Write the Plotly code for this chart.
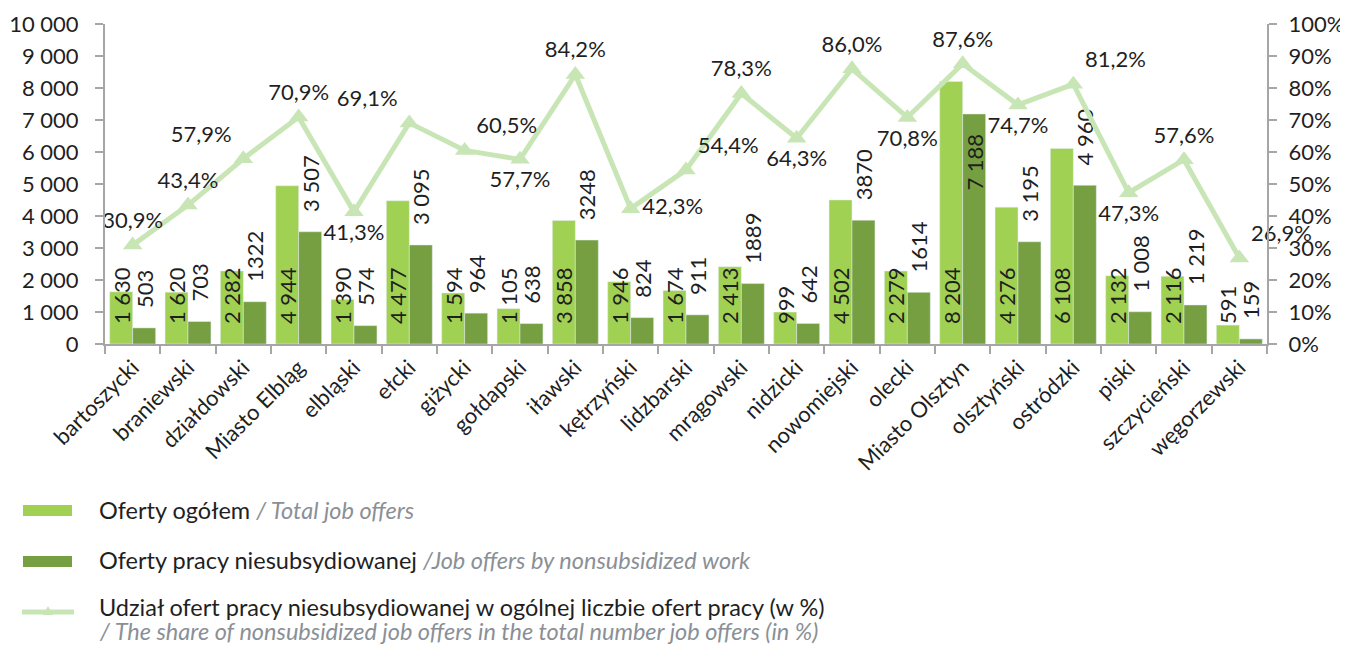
import plotly.graph_objects as go

# ---------------- data ----------------
categories = ["bartoszycki", "braniewski", "działdowski", "Miasto Elbląg", "elbląski", "ełcki",
              "giżycki", "gołdapski", "iławski", "kętrzyński", "lidzbarski", "mrągowski",
              "nidzicki", "nowomiejski", "olecki", "Miasto Olsztyn", "olsztyński", "ostródzki",
              "piski", "szczycieński", "węgorzewski"]
total_offers = [1630, 1620, 2282, 4944, 1390, 4477, 1594, 1105, 3858, 1946, 1674, 2413,
                999, 4502, 2279, 8204, 4276, 6108, 2132, 2116, 591]
nonsub_offers = [503, 703, 1322, 3507, 574, 3095, 964, 638, 3248, 824, 911, 1889,
                 642, 3870, 1614, 7188, 3195, 4960, 1008, 1219, 159]
nonsub_labels = ["503", "703", "1322", "3 507", "574", "3 095", "964", "638", "3248", "824", "911",
                 "1889", "642", "3870", "1614", "7 188", "3 195", "4 960", "1 008", "1 219", "159"]
share_pct = [30.9, 43.4, 57.9, 70.9, 41.3, 69.1, 60.5, 57.7, 84.2, 42.3, 54.4, 78.3,
             64.3, 86.0, 70.8, 87.6, 74.7, 81.2, 47.3, 57.6, 26.9]
left_ticks = list(range(0, 10001, 1000))
right_ticks = list(range(0, 101, 10))

# ---------------- styles ----------------
FONT = "Lato"
TXT = "#1f1f1f"
AX = "#a6a6a6"
C_LIGHT = "#a0d152"
C_DARK = "#769f41"
C_LINE = "#c8e5b5"
GREY_IT = "#8a9096"
NB = "\u00a0"
FS = 22

share_positions = ["top center", "top center", "top left", "top center", "bottom center",
                   "top left", "top right", "bottom center", "top center", "middle right",
                   "top right", "top center", "bottom center", "top center", "bottom center",
                   "top center", "bottom center", "top right", "bottom center", "top center",
                   "top right"]
big_idx = nonsub_offers.index(max(nonsub_offers))
dark_positions = ["inside" if i == big_idx else "outside" for i in range(len(categories))]


def fmt_space(v):
    return f"{v:,}".replace(",", " ")


light_text = [NB * 3 + fmt_space(v) for v in total_offers]
dark_text = [(lab + NB * 3) if p == "inside" else (NB * 3 + lab)
             for lab, p in zip(nonsub_labels, dark_positions)]
share_text = [f"{v:.1f}".replace(".", ",") + "%" for v in share_pct]

fig = go.Figure()
fig.add_trace(go.Bar(
    x=categories, y=total_offers, name="Oferty ogółem", marker_color=C_LIGHT,
    text=light_text, textposition="inside", insidetextanchor="start", textangle=-90,
    constraintext="none", textfont=dict(family=FONT, size=FS, color=TXT),
    cliponaxis=False, showlegend=False))
fig.add_trace(go.Bar(
    x=categories, y=nonsub_offers, name="Oferty pracy niesubsydiowanej", marker_color=C_DARK,
    text=dark_text, textposition=dark_positions, insidetextanchor="end", textangle=-90,
    constraintext="none", textfont=dict(family=FONT, size=FS, color=TXT),
    cliponaxis=False, showlegend=False))
fig.add_trace(go.Scatter(
    x=categories, y=share_pct, yaxis="y2", mode="lines+markers+text",
    line=dict(color=C_LINE, width=5),
    marker=dict(symbol="triangle-up", size=17, color=C_LINE),
    text=share_text, textposition=share_positions,
    textfont=dict(family=FONT, size=FS, color=TXT), cliponaxis=False, showlegend=False))

# ---------------- layout ----------------
OFF = 8  # page body margin
W, H = 1340, 638
L, R, T, B = 97, 81, 16, 302
PW, PH = W - L - R, H - T - B


def px(x):  # page pixel -> paper x
    return (x - OFF - L) / PW


def py(y):  # page pixel -> paper y
    return (H - B - (y - OFF)) / PH


fig.update_layout(
    width=W, height=H, margin=dict(l=L, r=R, t=T, b=B, autoexpand=False),
    paper_bgcolor="white", plot_bgcolor="white",
    barmode="group", bargap=0.17, bargroupgap=0,
    font=dict(family=FONT, size=FS, color=TXT),
    xaxis=dict(type="category", tickson="boundaries", ticks="outside", ticklen=8,
               tickcolor=AX, tickwidth=2, showline=True, linecolor=AX, linewidth=2,
               tickangle=-45, tickfont=dict(family=FONT, size=22, color=TXT),
               showgrid=False, range=[-0.5, len(categories) - 0.5]),
    xaxis2=dict(overlaying="x", anchor="free", position=0, side="top",
                range=[-0.5, len(categories) - 0.5],
                tickmode="array", tickvals=[i - 0.5 for i in range(len(categories) + 1)],
                ticks="outside", ticklen=7, tickcolor=AX, tickwidth=2,
                showticklabels=False, showline=False, showgrid=False, zeroline=False),
    yaxis=dict(range=[0, 10000], tickmode="array", tickvals=left_ticks,
               ticktext=[fmt_space(v) for v in left_ticks],
               ticks="outside", ticklen=8, tickcolor=AX, tickwidth=2, ticklabelstandoff=12,
               showline=True, linecolor=AX, linewidth=2, showgrid=False, zeroline=False,
               tickfont=dict(family=FONT, size=FS, color=TXT)),
    yaxis3=dict(overlaying="y", anchor="free", position=0, side="right",
                range=[0, 10000], tickmode="array", tickvals=left_ticks,
                ticks="outside", ticklen=7, tickcolor=AX, tickwidth=2,
                showticklabels=False, showline=False, showgrid=False, zeroline=False),
    yaxis2=dict(overlaying="y", side="right", range=[0, 100], tickmode="array",
                tickvals=right_ticks, ticktext=[f"{v}%" for v in right_ticks],
                ticks="outside", ticklen=8, tickcolor=AX, tickwidth=2, ticklabelstandoff=7,
                showline=True, linecolor=AX, linewidth=2, showgrid=False, zeroline=False,
                tickfont=dict(family=FONT, size=FS, color=TXT)),
    yaxis4=dict(overlaying="y", anchor="free", position=1, side="left",
                range=[0, 100], tickmode="array", tickvals=right_ticks,
                ticks="outside", ticklen=7, tickcolor=AX, tickwidth=2,
                showticklabels=False, showline=False, showgrid=False, zeroline=False),
)

# ---------------- custom legend ----------------
shapes = [
    dict(type="rect", xref="paper", yref="paper", x0=px(23), x1=px(72), y0=py(505), y1=py(516),
         fillcolor=C_LIGHT, line=dict(width=0)),
    dict(type="rect", xref="paper", yref="paper", x0=px(23), x1=px(72), y0=py(556), y1=py(567),
         fillcolor=C_DARK, line=dict(width=0)),
    dict(type="line", xref="paper", yref="paper", x0=px(22), x1=px(74), y0=py(612), y1=py(612),
         line=dict(color=C_LINE, width=5)),
    dict(type="path", xref="paper", yref="paper",
         path=f"M {px(43)} {py(615)} L {px(53)} {py(615)} L {px(48)} {py(606)} Z",
         fillcolor=C_LINE, line=dict(width=0)),
]
legend_items = [
    (510, f"Oferty ogółem <i><span style='color:{GREY_IT}'>/ Total job offers</span></i>"),
    (560, f"Oferty pracy niesubsydiowanej <i><span style='color:{GREY_IT}'>/Job offers by nonsubsidized work</span></i>"),
    (607, "Udział ofert pracy niesubsydiowanej w ogólnej liczbie ofert pracy (w %)"),
    (631, f"<i><span style='color:{GREY_IT}'>/ The share of nonsubsidized job offers in the total number job offers (in %)</span></i>"),
]
annotations = [dict(xref="paper", yref="paper", x=px(97), y=py(yy), text=t, showarrow=False,
                    xanchor="left", yanchor="middle", font=dict(family=FONT, size=23.5, color=TXT))
               for yy, t in legend_items]
fig.update_layout(shapes=shapes, annotations=annotations)

fig.write_html("out.html")
